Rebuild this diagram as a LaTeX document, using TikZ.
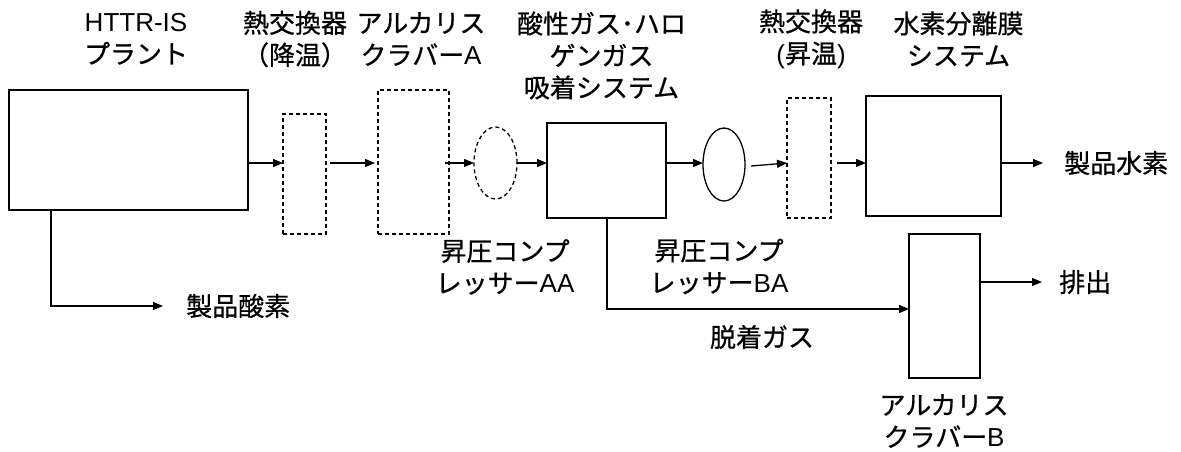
\documentclass[tikz,border=0pt]{standalone}
\usepackage{fontspec}
\setmainfont{Noto Sans CJK JP}[FakeBold=0.7]
\newfontfamily\lat{Liberation Sans}
\usetikzlibrary{arrows.meta,shapes.geometric}
\begin{document}
\begin{tikzpicture}[x=1pt,y=-1pt,
  ln/.style={line width=1.3pt},
  box/.style={ln,draw,rectangle,inner sep=0pt,outer sep=0pt},
  dbox/.style={box,dash pattern=on 4pt off 3pt},
  oval/.style={ln,draw,ellipse,inner sep=0pt,outer sep=0pt},
  arr/.style={ln,-{Triangle[length=10pt,width=8pt]}},
  lab/.style={font=\fontsize{26}{32}\selectfont,align=center,inner sep=0pt}]
\useasboundingbox (0,0) rectangle (1181,451);
\fill[white] (0,0) rectangle (1181,451);
% row / column helper coordinates
\coordinate (r) at (0,163);
\coordinate (ox) at (51,0);
\coordinate (dx) at (607,0);
\coordinate (dy) at (0,309);
\coordinate (ey) at (0,282);
% process blocks
\node[box,minimum width=239pt,minimum height=120pt] (httr) at (128.5,150) {};
\node[dbox,minimum width=43pt,minimum height=120pt] (hx1) at (304.5,174) {};
\node[dbox,minimum width=71pt,minimum height=144pt] (scrA) at (413.5,162) {};
\node[oval,dash pattern=on 4pt off 3pt,minimum width=43pt,minimum height=72pt] (aa) at (495.5,163) {};
\node[box,minimum width=119pt,minimum height=95pt] (ads) at (606.5,170.5) {};
\node[oval,minimum width=42pt,minimum height=73pt] (ba) at (724,164.5) {};
\node[dbox,minimum width=44pt,minimum height=120pt] (hx2) at (809,158) {};
\node[box,minimum width=135pt,minimum height=120pt] (mem) at (933.5,156) {};
\node[box,minimum width=71pt,minimum height=144pt] (scrB) at (944.5,306) {};
% labels
\node[lab] (lhttr) at (136,39) {{\lat HTTR-IS}\\プラント};
\node[lab] (lhx1) at (295,39) {熱交換器\\（降温）};
\node[lab] (lscrA) at (421,39) {アルカリス\\クラバー{\lat A}};
\node[lab] (lads) at (601.5,55.5) {酸性ガス･ハロ\\ゲンガス\\吸着システム};
\node[lab] (lhx2) at (811,39) {熱交換器\\{\lat (}昇温{\lat )}};
\node[lab] (lmem) at (958.5,39) {水素分離膜\\システム};
\node[lab] (laa) at (505,267) {昇圧コンプ\\レッサー{\lat AA}};
\node[lab] (lba) at (719,266.5) {昇圧コンプ\\レッサー{\lat BA}};
\node[lab] (lscrB) at (944,421) {アルカリス\\クラバー{\lat B}};
\node[lab] (ldes) at (762,337) {脱着ガス};
\node[lab,anchor=west] (h2) at (1064,163) {製品水素};
\node[lab,anchor=west] (o2) at (186,306) {製品酸素};
\node[lab,anchor=west] (ex) at (1059,282) {排出};
% connectors
\draw[arr] (httr.east |- r) -- (hx1.west |- r);
\draw[arr,shorten <=4pt,shorten >=3pt] (hx1.east |- r) -- (scrA.west |- r);
\draw[arr,shorten <=-4pt] (scrA.east |- r) -- (aa.west);
\draw[arr] (aa.east) -- (ads.west |- r);
\draw[arr] (ads.east |- r) -- (ba.west |- r);
\draw[arr] ([xshift=6pt,yshift=-1.5pt]ba.east) -- (hx2.west |- r);
\draw[arr,shorten <=6pt] (hx2.east |- r) -- (mem.west |- r);
\draw[arr,shorten >=21pt] (mem.east |- r) -- (h2.west);
\draw[arr,shorten >=23pt] (httr.south -| ox) |- (o2.west);
\draw[arr] (ads.south -| dx) |- (scrB.west |- dy);
\draw[arr,shorten >=17pt] (scrB.east |- ey) -- (ex.west);
\end{tikzpicture}
\end{document}
